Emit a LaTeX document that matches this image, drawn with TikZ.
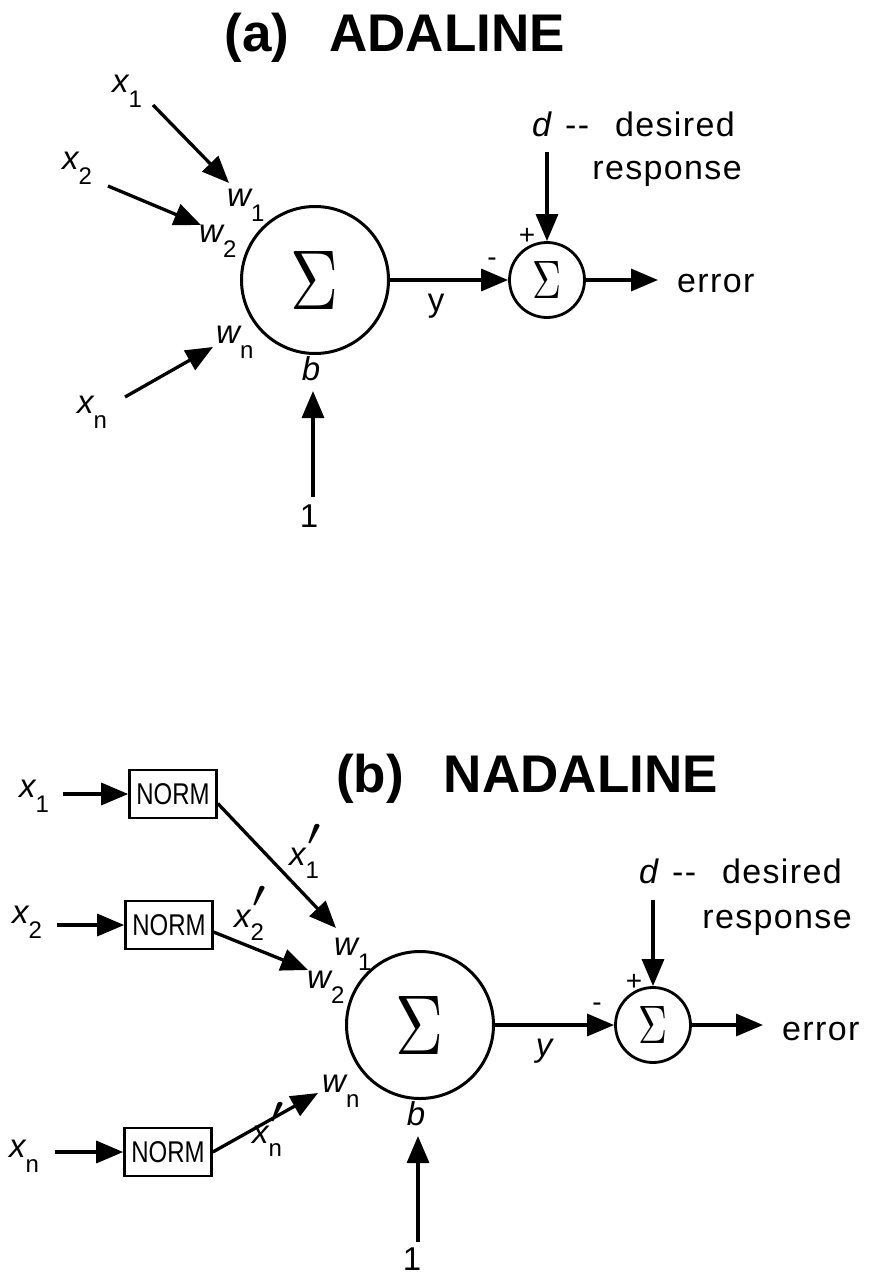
\documentclass[tikz,border=0pt]{standalone}
\usepackage{fontspec}
\usepackage{graphicx}
\setmainfont{Liberation Sans}
\newfontfamily\wordfam[LetterSpace=4]{Liberation Sans}
\usetikzlibrary{arrows.meta}
\newcommand{\labfont}{\fontsize{33}{33}\selectfont}
\newcommand{\subfont}{\fontsize{24}{24}\selectfont}
\newcommand{\titlefont}{\fontsize{53}{53}\selectfont\bfseries}
\newcommand{\wordfont}{\wordfam\fontsize{34}{34}\selectfont}
\newcommand{\signfont}{\fontsize{28}{28}\selectfont}
\newcommand{\normfont}{\fontsize{30}{30}\selectfont}
\newcommand{\lbl}[2]{{\labfont\itshape #1}\raisebox{-15pt}{\subfont #2}}
\newcommand{\lblp}[2]{{\labfont\itshape #1}\rlap{\hspace{2pt}\raisebox{20pt}{\scalebox{4.8}[3.8]{$\prime$}}}\raisebox{-13pt}{\subfont #2}}
\newcommand{\sumbig}{\resizebox{48pt}{58pt}{$\Sigma$}}
\newcommand{\sumsmall}{\resizebox{29pt}{37pt}{$\Sigma$}}
\begin{document}
\begin{tikzpicture}[x=1pt,y=-1pt,
  >={Triangle[length=27pt,width=22pt]},
  conn/.style={line width=3.3pt,->},
  bigsum/.style={draw,circle,line width=3pt,minimum size=147pt,inner sep=0pt},
  smallsum/.style={draw,circle,line width=2.8pt,minimum size=75pt,inner sep=0pt},
  normbox/.style={draw,line width=2.6pt,minimum width=87pt,minimum height=48pt,inner sep=0pt,font=\normfont},
  lab/.style={inner sep=0pt,anchor=base west},
  plain/.style={inner sep=0pt,anchor=base,font=\labfont},
  sign/.style={inner sep=0pt,font=\signfont},
  txt/.style={inner sep=0pt,font=\wordfont},
  ttl/.style={inner sep=0pt,anchor=base east,font=\titlefont}]
\useasboundingbox[fill=white] (0,0) rectangle (876,1276);

% ---------------- (a) ADALINE ----------------
\node[ttl] (ta) at (565,52) {(a)\hspace{40pt}ADALINE};
\node[bigsum] (S1) at (315,280) {\sumbig};
\node[smallsum] (s1) at (547,280) {\sumsmall};
\node[lab] (ax1) at (112,93) {\lbl{x}{1}};
\node[lab] (ax2) at (62,170) {\lbl{x}{2}};
\node[lab] (axn) at (77,413) {\lbl{x}{n}};
\node[lab] (aw1) at (227,207) {\lbl{w}{1}};
\node[lab] (aw2) at (199,242) {\lbl{w}{2}};
\node[lab] (awn) at (216,343) {\lbl{w}{n}};
\node[plain] (ab) at (311,380) {\itshape b};
\node[plain] (aone) at (309,527) {1};
\node[plain] (ay) at (436,311) {y};
\node[sign] (am) at (492,262) {-};
\node[sign] (ap) at (527,236) {+};
\node[txt,anchor=base west] (ad) at (532,137) {{\itshape d}\hspace{14pt}-{}-\hspace{26pt}desired};
\node[txt,anchor=base east] (ar) at (742,180) {response};
\node[txt,anchor=base west] (ae) at (677,292) {error};

\coordinate (a1s) at (153,105); \coordinate (a1e) at (229,183);
\coordinate (a2s) at (108,186); \coordinate (a2e) at (201,225);
\coordinate (ans) at (125,397); \coordinate (ane) at (213,347);
\coordinate (abs) at (313,497); \coordinate (abe) at (313,391);
\coordinate (ads) at (547,152);
\coordinate (aee) at (658,280);
\draw[conn] (a1s) -- (a1e);
\draw[conn] (a2s) -- (a2e);
\draw[conn] (ans) -- (ane);
\draw[conn] (abs) -- (abe);
\draw[conn] (S1.east) -- (s1.west);
\draw[conn] (ads) -- (s1.north);
\draw[conn] (s1.east) -- (aee);

% ---------------- (b) NADALINE ----------------
\node[ttl] (tb) at (718,792) {(b)\hspace{40pt}NADALINE};
\node[normbox] (N1) at (173,794) {\scalebox{0.8}[1]{NORM}};
\node[normbox] (N2) at (169,925) {\scalebox{0.8}[1]{NORM}};
\node[normbox] (Nn) at (168,1152) {\scalebox{0.8}[1]{NORM}};
\node[bigsum] (S2) at (420,1025) {\sumbig};
\node[smallsum] (s2) at (653,1025) {\sumsmall};
\node[lab] (bx1) at (19,797) {\lbl{x}{1}};
\node[lab] (bx2) at (12,923) {\lbl{x}{2}};
\node[lab] (bxn) at (9,1157) {\lbl{x}{n}};
\node[lab] (bx1p) at (289,865) {\lblp{x}{1}};
\node[lab] (bx2p) at (234,927) {\lblp{x}{2}};
\node[lab] (bxnp) at (252,1143) {\lblp{x}{n}};
\node[lab] (bw1) at (334,955) {\lbl{w}{1}};
\node[lab] (bw2) at (307,988) {\lbl{w}{2}};
\node[lab] (bwn) at (322,1092) {\lbl{w}{n}};
\node[plain] (bb) at (416,1125) {\itshape b};
\node[plain] (bone) at (412,1270) {1};
\node[plain] (by) at (544,1056) {\itshape y};
\node[sign] (bm) at (597,1007) {-};
\node[sign] (bp) at (634,982) {+};
\node[txt,anchor=base west] (bd) at (639,883) {{\itshape d}\hspace{14pt}-{}-\hspace{26pt}desired};
\node[txt,anchor=base east] (br) at (852,928) {response};
\node[txt,anchor=base west] (be) at (782,1040) {error};

\coordinate (b1s) at (63,794);
\coordinate (b2s) at (57,925);
\coordinate (bns) at (55,1152);
\coordinate (b1e) at (336,928);
\coordinate (b2e) at (308,970);
\coordinate (bne) at (318,1093);
\coordinate (bbs) at (418,1242); \coordinate (bbe) at (418,1136);
\coordinate (bds) at (653,900);
\coordinate (bee) at (763,1025);
\draw[conn] (b1s) -- (N1.west);
\draw[conn] (b2s) -- (N2.west);
\draw[conn] (bns) -- (Nn.west);
\draw[conn] (N1.-12) -- (b1e);
\draw[conn] (N2.-9) -- (b2e);
\draw[conn] (Nn.east) -- (bne);
\draw[conn] (bbs) -- (bbe);
\draw[conn] (S2.east) -- (s2.west);
\draw[conn] (bds) -- (s2.north);
\draw[conn] (s2.east) -- (bee);
\end{tikzpicture}
\end{document}
